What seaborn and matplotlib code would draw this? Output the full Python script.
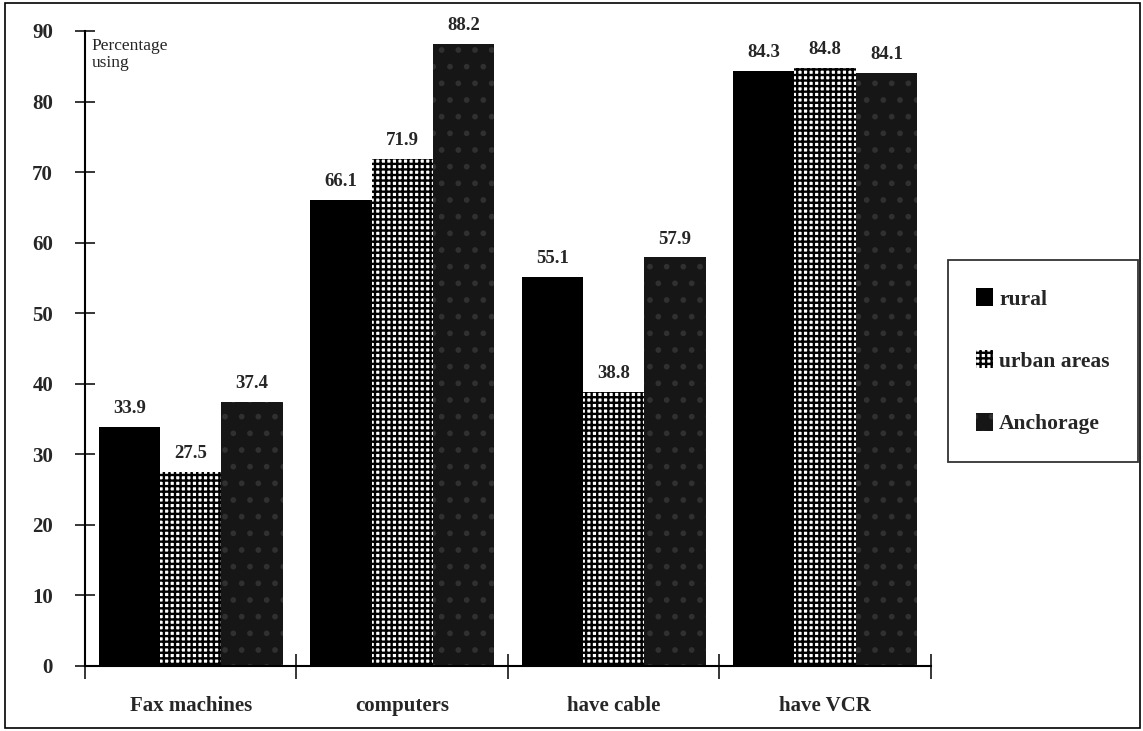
import pandas as pd
import matplotlib
matplotlib.use("Agg")
import matplotlib.pyplot as plt
import seaborn as sns
from matplotlib.patches import Rectangle

# Data
categories = ["Fax machines", "computers", "have cable", "have VCR"]
groups = ["rural", "urban areas", "Anchorage"]
rural = [33.9, 66.1, 55.1, 84.3]
urban = [27.5, 71.9, 38.8, 84.8]
anchorage = [37.4, 88.2, 57.9, 84.1]
yticks = [0, 10, 20, 30, 40, 50, 60, 70, 80, 90]

df = pd.DataFrame({
    "item": categories * 3,
    "group": [g for g in groups for _ in categories],
    "pct": rural + urban + anchorage,
})

sns.set_style("white")
plt.rcParams["font.family"] = ["Liberation Serif", "DejaVu Serif"]
plt.rcParams["hatch.linewidth"] = 1.7

fig = plt.figure(figsize=(11.43, 7.31), dpi=100)
ax = fig.add_axes([0.0744, 0.089, 0.740, 0.8686])

sns.barplot(data=df, x="item", y="pct", hue="group", order=categories,
            hue_order=groups, palette=["black", "white", "#161616"],
            width=0.87, gap=0, saturation=1, edgecolor="black",
            linewidth=0, ax=ax, legend=False)

# pattern fills like the printed original
for bar in ax.containers[1]:
    bar.set_hatch("+++")
    bar.set_edgecolor("black")
    bar.set_linewidth(0)
for bar in ax.containers[2]:
    bar.set_hatch(".")
    bar.set_edgecolor("#303030")
    bar.set_linewidth(0)

# value labels
for cont, vals in zip(ax.containers, [rural, urban, anchorage]):
    ax.bar_label(cont, labels=[f"{v:.1f}" for v in vals], padding=7,
                 fontsize=13.5, fontweight="bold")

ax.set_ylim(0, 90)
ax.set_xlim(-0.5, 3.5)
ax.set_yticks(yticks)
ax.set_yticklabels([str(t) for t in yticks], fontsize=15, fontweight="bold")
ax.tick_params(axis="y", left=True, direction="inout", length=14, width=1.3, pad=16)
ax.set_xticks(range(4))
ax.set_xticklabels(categories, fontsize=15, fontweight="bold")
ax.tick_params(axis="x", which="major", bottom=False, length=0, pad=22)
ax.set_xticks([-0.5, 0.5, 1.5, 2.5, 3.5], minor=True)
ax.tick_params(axis="x", which="minor", bottom=True, direction="inout",
               length=18, width=1.3)
ax.set_xlabel("")
ax.set_ylabel("")
for s in ["top", "right"]:
    ax.spines[s].set_visible(False)
for s in ["left", "bottom"]:
    ax.spines[s].set_linewidth(1.5)
    ax.spines[s].set_color("black")

ax.text(-0.47, 89, "Percentage\nusing", fontsize=12.5, va="top", ha="left",
        linespacing=1.05)

handles = [ax.containers[i][0] for i in range(3)]
leg = fig.legend(handles, groups, loc="center left",
                 bbox_to_anchor=(0.829, 0.506), frameon=True, fancybox=False,
                 edgecolor="black", handlelength=0.8, handleheight=0.9,
                 handletextpad=0.3, labelspacing=1.9, borderpad=1.3,
                 borderaxespad=0, prop={"size": 15.5, "weight": "bold"})
leg.get_frame().set_linewidth(1.3)

# outer frame of the page
fig.patches.append(Rectangle((0.004, 0.004), 0.993, 0.992, transform=fig.transFigure,
                             fill=False, edgecolor="black", linewidth=1.2))

fig.savefig("out.png", dpi=100)
